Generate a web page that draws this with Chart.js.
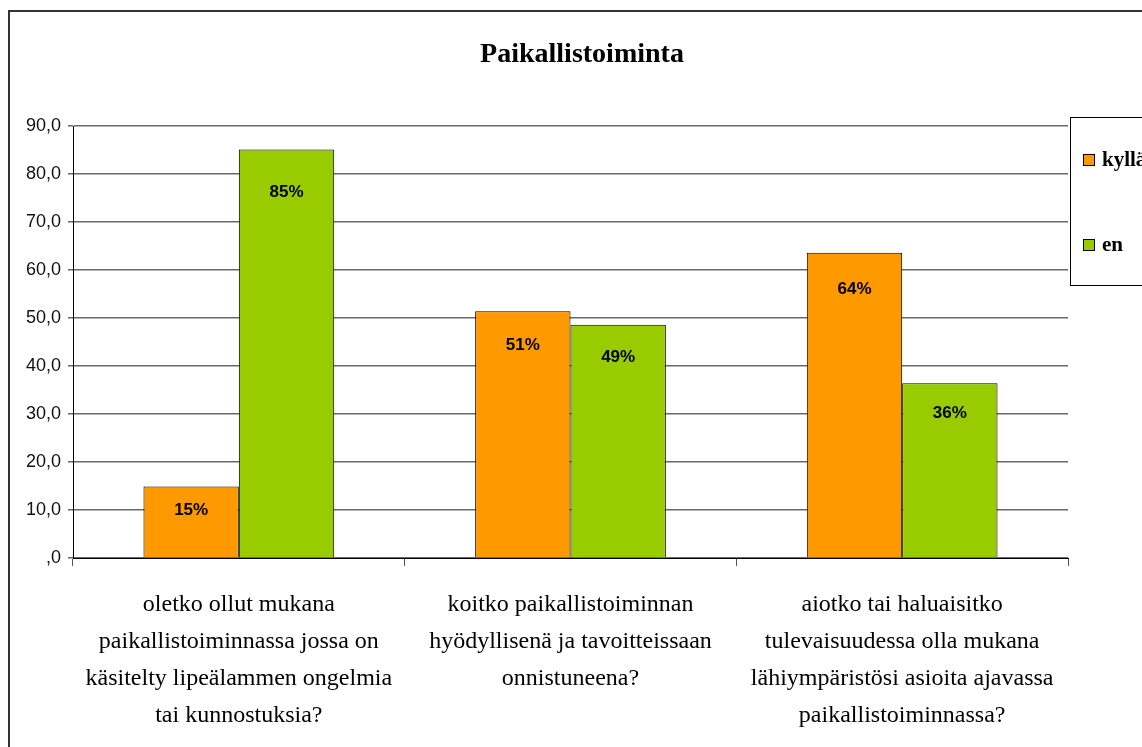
<!DOCTYPE html>
<html><head><meta charset="utf-8">
<script src="https://cdn.jsdelivr.net/npm/chart.js@4.4.1/dist/chart.umd.min.js"></script>
<style>html,body{margin:0;padding:0;background:#fff;overflow:hidden}</style>
</head><body>
<canvas id="c" width="1142" height="747"></canvas>
<script>
const chartTitle = 'Paikallistoiminta';
const categories = [
  ['oletko ollut mukana', 'paikallistoiminnassa jossa on', 'käsitelty lipeälammen ongelmia', 'tai kunnostuksia?'],
  ['koitko paikallistoiminnan', 'hyödyllisenä ja tavoitteissaan', 'onnistuneena?'],
  ['aiotko tai haluaisitko', 'tulevaisuudessa olla mukana', 'lähiympäristösi asioita ajavassa', 'paikallistoiminnassa?']
];
const seriesNames = ['kyllä', 'en'];
const kyllaValues = [14.9, 51.4, 63.6];
const enValues = [85.1, 48.6, 36.4];
const seriesColors = ['#FF9900', '#99CC00'];
const yMin = 0, yMax = 90, yStep = 10;

const serif = '"Liberation Serif", "Times New Roman", serif';
const sans = '"Liberation Sans", Arial, sans-serif';

const decor = {
  id: 'decor',
  beforeDraw(chart) {
    const ctx = chart.ctx;
    ctx.save();
    ctx.fillStyle = '#fff';
    ctx.fillRect(0, 0, chart.width, chart.height);
    ctx.strokeStyle = '#333';
    ctx.lineWidth = 2;
    ctx.beginPath();
    ctx.moveTo(9, chart.height + 2);
    ctx.lineTo(9, 11);
    ctx.lineTo(chart.width + 2, 11);
    ctx.stroke();
    ctx.restore();
  },
  afterDraw(chart) {
    const ctx = chart.ctx;
    ctx.save();
    // title
    ctx.fillStyle = '#000';
    ctx.font = 'bold 28px ' + serif;
    ctx.textAlign = 'center';
    ctx.textBaseline = 'middle';
    ctx.fillText(chartTitle, 582, 55);
    // legend box
    ctx.fillStyle = '#fff';
    ctx.fillRect(1070.5, 117.5, 100, 168);
    ctx.strokeStyle = '#000';
    ctx.lineWidth = 1;
    ctx.strokeRect(1070.5, 117.5, 100, 168);
    const legendY = [160, 245];
    chart.data.datasets.forEach((ds, i) => {
      const y = legendY[i];
      ctx.fillStyle = ds.backgroundColor;
      ctx.fillRect(1083.5, y - 5.5, 11, 11);
      ctx.strokeStyle = '#000';
      ctx.strokeRect(1083.5, y - 5.5, 11, 11);
      ctx.fillStyle = '#000';
      ctx.font = 'bold 21px ' + serif;
      ctx.textAlign = 'left';
      ctx.textBaseline = 'middle';
      ctx.fillText(ds.label, 1102, y + 1);
    });
    ctx.restore();
  },
  afterDatasetsDraw(chart) {
    const ctx = chart.ctx;
    ctx.save();
    ctx.fillStyle = '#000';
    ctx.font = 'bold 17px ' + sans;
    ctx.textAlign = 'center';
    ctx.textBaseline = 'middle';
    chart.data.datasets.forEach((ds, di) => {
      chart.getDatasetMeta(di).data.forEach((bar, i) => {
        const h = bar.base - bar.y;
        ctx.fillText(Math.round(ds.data[i]) + '%', bar.x, bar.y + 20 + 0.056 * h);
      });
    });
    ctx.restore();
  }
};

new Chart(document.getElementById('c'), {
  type: 'bar',
  data: {
    labels: categories,
    datasets: [
      { label: seriesNames[0], data: kyllaValues, backgroundColor: seriesColors[0], borderColor: '#000', borderWidth: 1 },
      { label: seriesNames[1], data: enValues, backgroundColor: seriesColors[1], borderColor: '#000', borderWidth: 1 }
    ]
  },
  options: {
    responsive: false,
    animation: false,
    devicePixelRatio: 1,
    barPercentage: 1.0,
    categoryPercentage: 0.575,
    layout: { padding: { top: 126, right: 74, left: 0, bottom: 0 } },
    plugins: { legend: { display: false }, title: { display: false }, tooltip: { enabled: false } },
    scales: {
      x: {
        offset: true,
        grid: { offset: true, drawOnChartArea: false, drawTicks: true, tickLength: 8, color: '#555' },
        border: { color: '#000', width: 1 },
        ticks: { color: '#000', font: { family: serif, size: 24, lineHeight: 1.54 }, padding: 20, maxRotation: 0, autoSkip: false },
        afterFit(scale) { scale.height = 189; }
      },
      y: {
        min: yMin, max: yMax,
        grid: { color: '#6a6a6a', lineWidth: 1.5, tickLength: 5 },
        border: { color: '#000', width: 1 },
        ticks: {
          stepSize: yStep, color: '#111', padding: 7,
          font: { family: sans, size: 18 },
          callback: v => v === 0 ? ',0' : v.toFixed(1).replace('.', ',')
        },
        afterFit(scale) { scale.width = 73; }
      }
    }
  },
  plugins: [decor]
});
</script>
</body></html>
